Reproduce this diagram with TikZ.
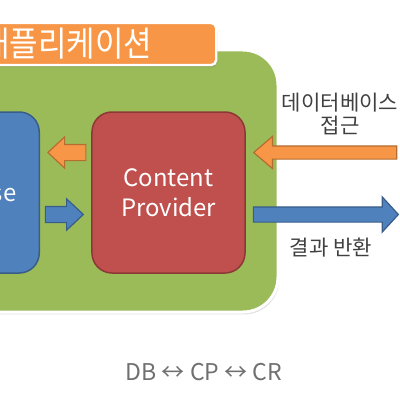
\documentclass[tikz,border=0pt]{standalone}
\usepackage{fontspec}
\setmainfont{Noto Sans CJK KR}
\newfontfamily\titlefont[FakeStretch=0.9]{Noto Sans CJK KR}
\usetikzlibrary{positioning,calc,shapes.arrows,shadows}

\definecolor{appgreen}{HTML}{9BBB59}
\definecolor{boxblue}{HTML}{4F81BD}
\definecolor{lineblue}{HTML}{385D8A}
\definecolor{boxred}{HTML}{C0504D}
\definecolor{linered}{HTML}{8C3836}
\definecolor{boxorange}{HTML}{F79646}
\definecolor{lineorange}{HTML}{B66D31}
\definecolor{labelgray}{HTML}{404040}
\definecolor{notegray}{HTML}{707070}

\tikzset{
  layer/.style={draw=white, line width=0.75mm, rounded corners=8.75mm,
    drop shadow={opacity=0.25, shadow xshift=0.3mm, shadow yshift=-0.6mm}},
  block/.style={line width=0.375mm, rounded corners=5mm, minimum height=40.25mm,
    text=white, font=\fontsize{17}{21}\selectfont},
  smallarrow/.style={single arrow, inner xsep=0pt, inner ysep=1.875mm, line width=0.3mm,
    minimum height=9.5mm, single arrow head extend=1.875mm, single arrow tip angle=86},
  bigarrow/.style={single arrow, inner xsep=0pt, line width=0.3mm},
  label/.style={text=labelgray, align=center, font=\fontsize{15}{16}\selectfont}
}

\begin{document}
\begin{tikzpicture}[x=0.25mm,y=-0.25mm]
	\useasboundingbox (0,0) rectangle (400,400);
	\clip (0,0) rectangle (400,400);

	% application layer
	\node[layer, fill=appgreen, minimum width=79.5mm, minimum height=65.5mm] (app) at (119,181) {};
	\node[layer, fill=boxorange, rounded corners=1.25mm, line width=0.6mm, anchor=west,
		minimum height=10.5mm, inner xsep=2.5mm, inner ysep=0pt, text width=56.25mm, align=left,
		text=white, font=\titlefont\fontsize{24.5}{26}\selectfont] (title) at (-30,44) {애플리케이션};

	% database and provider
	\node[block, draw=lineblue, fill=boxblue, anchor=east, inner xsep=5.75mm,
		text width=28.5mm, align=right] (db) at (40,192.5) {Database};
	\node[block, draw=linered, fill=boxred, minimum width=38.25mm, align=center] (cp) at (168.5,192.5) {Content\\Provider};

	% arrows between db and cp
	\node[smallarrow, draw=lineorange, fill=boxorange, shape border rotate=180, anchor=tip]
		(todb) at ([xshift=1.75mm,yshift=10mm]db.east) {};
	\node[smallarrow, draw=lineblue, fill=boxblue, anchor=tip]
		(tocp) at ([xshift=-1.75mm,yshift=-5.5mm]cp.west) {};

	% outside access
	\node[bigarrow, draw=lineorange, fill=boxorange, shape border rotate=180, anchor=tip,
		minimum height=35.75mm, inner ysep=1.5mm, single arrow head extend=2.375mm,
		single arrow tip angle=81] (query) at ([xshift=1.75mm,yshift=10mm]cp.east) {};
	\node[bigarrow, draw=lineblue, fill=boxblue, anchor=tail,
		minimum height=36.25mm, inner ysep=1.75mm, single arrow head extend=2.5mm,
		single arrow tip angle=95] (result) at ([xshift=1.75mm,yshift=-5.5mm]cp.east) {};

	\node[label] (querytext) at (340,114) {데이터베이스\\접근};
	\node[label] (resulttext) at (331,248) {결과 반환};

	\node[text=notegray, font=\fontsize{16.4}{18}\selectfont] (note) at (204,372) {DB ↔ CP ↔ CR};
\end{tikzpicture}
\end{document}
